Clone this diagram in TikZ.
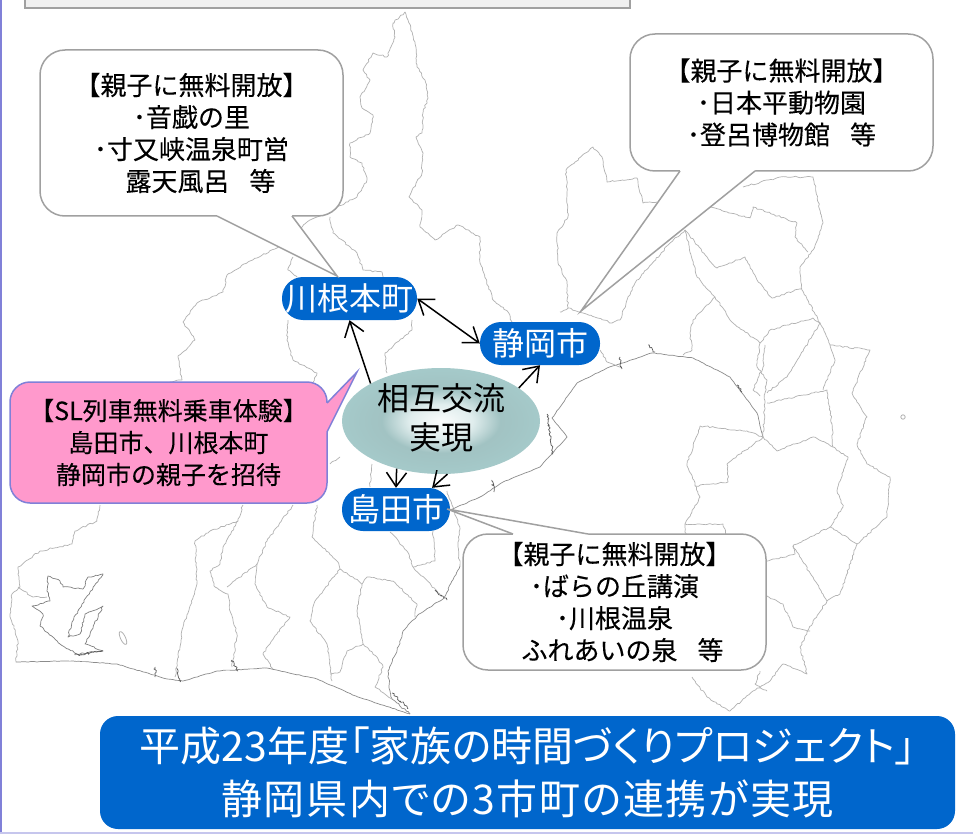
\documentclass[tikz,border=0pt]{standalone}
\usepackage{fontspec}
\setmainfont{Noto Sans CJK JP}[RawFeature=+palt]
\usetikzlibrary{shapes.geometric,arrows.meta,decorations.pathmorphing}
\newfontfamily\monoCJK{Noto Sans CJK JP}
\newfontfamily\darkCJK{Noto Sans CJK JP}[FakeBold=0.2]
\definecolor{blueN}{HTML}{0066CC}
\definecolor{pinkN}{HTML}{FF99CC}
\definecolor{purpleL}{HTML}{8080D8}
\definecolor{grayL}{HTML}{A0A0A0}
\definecolor{mapL}{HTML}{B2B2B2}
\definecolor{coastL}{HTML}{8C8C8C}
\definecolor{tealE}{HTML}{A6CCCC}
\pgfdeclareradialshading{ballE}{\pgfpointorigin}{color(0bp)=(white!95!tealE);color(8bp)=(white!65!tealE);color(15bp)=(tealE!88!gray);color(20bp)=(tealE!92!gray);color(28bp)=(tealE);color(50bp)=(tealE)}
\tikzset{
  x=1pt,y=-1pt,
  mapline/.style={draw=mapL,line width=0.7pt,line join=round,decorate,decoration={random steps,segment length=2.5pt,amplitude=0.8pt}},
  coast/.style={mapline,draw=coastL,decoration={random steps,segment length=3pt,amplitude=0.35pt}},
  inlet/.style={draw=black!65,line width=0.7pt,line join=round,decorate,decoration={random steps,segment length=1.5pt,amplitude=1.3pt}},
  bubble/.style={draw=grayL,line width=1.5pt,fill=white,rounded corners=25pt,align=center,inner sep=0pt,font=\darkCJK\fontsize{26}{32}\selectfont},
  tailline/.style={draw=grayL,line width=1.5pt,line join=miter},
  pill/.style={fill=blueN,text=white,rounded corners=21pt,inner sep=0pt,minimum height=43pt,font=\monoCJK\fontsize{32}{40}\selectfont},
  link/.style={draw=black,line width=1.5pt,-{Straight Barb[length=14pt,width=20pt,line width=1.5pt]}},
  biglink/.style={link,{Straight Barb[length=14pt,width=20pt,line width=1.5pt]}-{Straight Barb[length=14pt,width=20pt,line width=1.5pt]}}
}
\begin{document}
\begin{tikzpicture}
\pgfmathsetseed{7}
\useasboundingbox (0,0) rectangle (973,834);
\fill[white] (0,0) rectangle (973,834);
% map : outer border
\path[mapline] (405,12) -- (408,20) -- (415,43) -- (417,67) -- (425,80) -- (428,98) -- (423,113) -- (422,133) -- (416,137) -- (423,153) -- (422,173) -- (409,197) -- (422,210) -- (420,227) -- (435,240) -- (458,225) -- (480,237) -- (480,263) -- (493,300) -- (508,312) -- (512,322);
\path[mapline] (405,12) -- (393,23) -- (395,37) -- (387,57) -- (373,53) -- (363,70) -- (370,80) -- (360,97) -- (362,108) -- (373,115) -- (370,133) -- (350,143) -- (350,157) -- (362,163) -- (367,180) -- (357,197) -- (337,207) -- (307,222) -- (277,248) -- (248,262) -- (227,275) -- (223,292) -- (197,303) -- (183,322) -- (195,340) -- (178,357) -- (182,380) -- (170,382);
\path[mapline] (100,505) -- (97,521) -- (75,531) -- (72,544) -- (40,551) -- (18,567) -- (20,587) -- (12,594) -- (10,614) -- (18,641) -- (16,662);
\path[coast] (16,662) -- (73,661) -- (117,664) -- (167,679) -- (183,681) -- (217,671) -- (267,668) -- (317,679) -- (358,697) -- (410,714);
\path[mapline,draw=coastL] (410,714) -- (392,699) -- (390,691) -- (388,671) -- (397,651) -- (403,631) -- (417,616) -- (443,599) -- (458,570) -- (460,566);
\path[mapline] (460,566) -- (458,547) -- (460,529) -- (452,505) -- (447,491);
\path[coast] (450,510) -- (480,497) -- (503,482) -- (540,467) -- (567,437) -- (552,418) -- (577,383) -- (607,368) -- (652,353) -- (693,358) -- (730,377) -- (757,413) -- (763,437);
\path[mapline] (600,350) -- (607,362) -- (620,367);
% Izu and the east
\path[mapline] (700,426) -- (687,464) -- (700,497) -- (685,524) -- (686,536);
\path[mapline] (700,426) -- (747,431) -- (763,437);
\path[mapline] (692,677) -- (707,697) -- (730,711) -- (753,691) -- (770,681) -- (783,664) -- (807,674) -- (800,647) -- (813,621) -- (827,601) -- (840,594) -- (857,544) -- (887,517) -- (890,477) -- (867,464) -- (857,444) -- (867,417) -- (852,393) -- (870,350) -- (830,345) -- (820,323) -- (802,290) -- (800,267) -- (813,250) -- (823,223) -- (813,177) -- (780,177) -- (743,187);
\path[mapline] (685,230) -- (670,243) -- (635,283) -- (627,300) -- (620,320) -- (612,323) -- (583,313) -- (568,308) -- (567,283) -- (558,263) -- (557,233) -- (568,217) -- (566,170) -- (593,147) -- (602,157) -- (607,182) -- (637,178) -- (643,203) -- (657,202);
\path[mapline] (568,308) -- (560,312);
% right side inner borders
\path[mapline] (685,230) -- (697,277) -- (715,297) -- (733,323) -- (760,343) -- (757,367) -- (767,380) -- (765,393) -- (763,437);
\path[mapline] (685,230) -- (707,257) -- (717,268) -- (745,257) -- (757,280) -- (772,298) -- (802,288);
\path[mapline] (710,207) -- (750,218) -- (753,207) -- (797,223) -- (795,237) -- (808,252);
\path[mapline] (715,297) -- (693,320) -- (690,333) -- (692,350) -- (683,355);
\path[mapline] (760,343) -- (770,330) -- (813,318) -- (820,323) -- (787,377) -- (767,393);
\path[mapline] (765,345) -- (763,367) -- (753,390) -- (760,396);
\path[mapline] (767,403) -- (827,390) -- (832,424) -- (833,447);
\path[mapline] (830,345) -- (835,360) -- (823,390);
\path[mapline] (763,437) -- (727,464) -- (728,482) -- (695,486);
\path[mapline] (763,437) -- (777,451) -- (813,437) -- (833,447) -- (848,457) -- (837,491) -- (843,507) -- (830,527) -- (857,544);
\path[mapline] (830,527) -- (793,546) -- (823,594) -- (827,601);
\path[mapline] (793,546) -- (795,554) -- (767,561);
\path[mapline] (767,596) -- (783,604) -- (793,627) -- (810,631);
\path[mapline] (685,524) -- (723,524) -- (727,536);
\path[mapline] (760,671) -- (755,684) -- (767,691);
\draw[mapL,line width=0.8pt] (903,417) circle (2.2);
% left side inner borders
\path[mapline] (238,521) -- (210,531) -- (195,541) -- (197,584) -- (183,627) -- (175,677);
\path[mapline] (243,505) -- (238,521) -- (223,547) -- (220,564) -- (210,571) -- (215,587) -- (228,594) -- (230,611) -- (237,634) -- (232,667);
\path[mapline] (293,505) -- (267,541) -- (257,564) -- (227,587);
\path[mapline] (257,564) -- (255,584) -- (267,607) -- (290,617) -- (277,634) -- (263,654) -- (273,669);
\path[mapline] (317,505) -- (312,537) -- (337,561) -- (340,569) -- (315,601) -- (310,621) -- (327,644) -- (332,681);
\path[mapline] (340,569) -- (353,577) -- (362,584) -- (357,611) -- (363,644) -- (347,651) -- (340,672) -- (330,674);
\path[mapline] (363,644) -- (377,657) -- (383,667) -- (375,687) -- (392,699);
\path[mapline] (362,584) -- (367,577) -- (393,581) -- (417,604) -- (415,617);
\path[mapline] (390,532) -- (407,551) -- (413,567) -- (440,594);
\path[mapline] (413,567) -- (435,561) -- (433,531);
\path[mapline] (340,457) -- (330,464);
\path[mapline] (372,464) -- (370,487);
\path[mapline] (330,217) -- (333,233) -- (357,253) -- (363,270) -- (382,272) -- (384,278);
\path[mapline] (293,257) -- (288,270) -- (297,277);
\path[mapline] (288,320) -- (287,340) -- (293,360) -- (317,373) -- (313,382);
\path[mapline] (412,320) -- (412,330) -- (385,353) -- (387,373);
% Hamana lake
\path[mapline] (18,587) -- (33,597) -- (47,597);
\path[mapline,draw=black!50] (48,576) -- (47,591) -- (50,601) -- (32,606) -- (43,614) -- (40,626) -- (60,644) -- (77,654) -- (103,651) -- (85,644) -- (103,606) -- (85,614) -- (80,634) -- (68,637) -- (72,622) -- (82,604) -- (103,574) -- (88,577) -- (83,589) -- (63,587) -- (60,581) -- cycle;
\draw[mapL,line width=0.8pt,rotate around={-65:(123,638)}] (123,638) ellipse (7 and 2.5);
% small inlets
\path[inlet] (155,667) -- (155,677); \path[inlet] (177,668) -- (180,682);
\path[inlet] (232,660) -- (238,671); \path[inlet] (435,590) -- (447,600);
\path[inlet] (392,693) -- (408,708); \path[inlet] (620,357) -- (622,369);
\path[inlet] (648,345) -- (655,352); \path[inlet] (737,385) -- (742,392);
\path[inlet] (547,414) -- (553,454); \path[inlet] (492,480) -- (494,492);
\path[inlet] (75,655) -- (103,651);
% frame
\fill[purpleL] (0,0) rectangle (1.8,834);
\fill[purpleL!45] (0,832) rectangle (973,834);
\path[draw=grayL,line width=1.6pt,fill=black!6] (25,-5) rectangle (630,8);
% bubbles
\node[bubble,minimum width=303pt,minimum height=166pt] (kawaneinfo) at (191.5,133) {【親子に無料開放】\\･音戯の里\\･寸又峡温泉町営\\\hspace*{18pt}露天風呂\hspace{20pt}等};
\node[bubble,minimum width=303pt,minimum height=137pt] (shizuokainfo) at (781.5,102.5) {【親子に無料開放】\\･日本平動物園\\･登呂博物館\hspace{20pt}等};
\node[bubble,minimum width=303pt,minimum height=136pt] (shimadainfo) at (614.5,602) {【親子に無料開放】\\･ばらの丘講演\\･川根温泉\\\hspace*{16pt}ふれあいの泉\hspace{20pt}等};
\node[bubble,draw=purpleL,fill=pinkN,rounded corners=20pt,minimum width=317pt,minimum height=121pt,font=\darkCJK\fontsize{25}{32}\selectfont] (sl) at (168.5,442.5) {【SL列車無料乗車体験】\\島田市、川根本町\\静岡市の親子を招待};
% hubs
\node[pill,minimum width=135pt] (kawane) at (349.5,298.5) {川根本町};
\node[pill,minimum width=120pt] (shizuoka) at (540,343.5) {静岡市};
\node[pill,minimum width=108pt] (shimada) at (396,509.5) {島田市};
\node[ellipse,shade,shading=ballE,minimum width=198pt,minimum height=106pt,inner sep=0pt] (hub) at (441,421) {};
\node[align=center,inner sep=0pt,yshift=3pt,font=\monoCJK\fontsize{32}{39}\selectfont] (hubtext) at (hub) {相互交流\\実現};
% bubble tails
\coordinate (tipK) at (337,276);
\coordinate (tipS) at (581,311);
\coordinate (tipD) at (447,509);
\coordinate (tipP) at (357,372);
\fill[white] (217,214) -- (217,216) -- (tipK) -- (292,216) -- (292,214) -- cycle;
\draw[tailline] (217,216) -- (tipK) -- (292,216);
\fill[white] (680,169) -- (680,171) -- (tipS) -- (755,171) -- (755,169) -- cycle;
\draw[tailline] (680,171) -- (tipS) -- (755,171);
\fill[white] (588,536) -- (588,534) -- (tipD) -- (513,534) -- (513,536) -- cycle;
\draw[tailline] (588,534) -- (tipD) -- (513,534);
\fill[pinkN] (325,403) -- (327,403) -- (tipP) -- (327,432) -- (325,432) -- cycle;
\draw[tailline,draw=purpleL] (327,403) -- (tipP) -- (327,432);
% links
\draw[biglink] (kawane.east) -- (shizuoka.west);
\draw[link] (hub.152) -- (kawane.south);
\draw[link] (hub.23) -- (shizuoka.south);
\draw[link] (hub.227) -- (shimada.north);
\draw[link] (hub.-83) -- (shimada.31);
% banner
\node[fill=blueN,text=white,rounded corners=18pt,minimum width=855pt,minimum height=113pt,inner sep=0pt,align=center,font=\fontsize{41}{53}\selectfont] (banner) at (527.5,772.5) {平成23年度「家族の時間づくりプロジェクト」\\\addfontfeature{LetterSpace=4}静岡県内での3市町の連携が実現};
\end{tikzpicture}
\end{document}
